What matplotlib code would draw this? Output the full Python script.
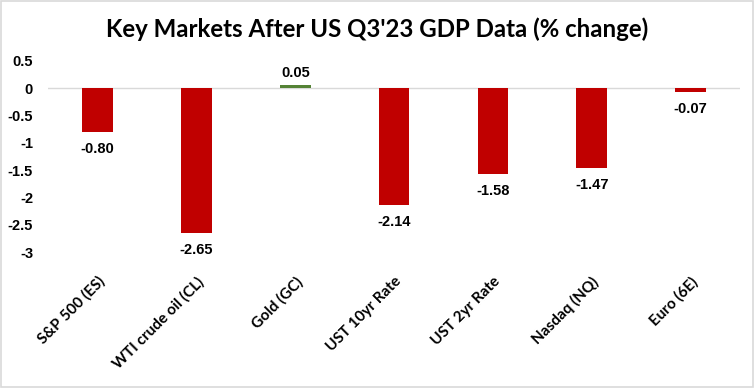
import numpy as np
import matplotlib.pyplot as plt
from matplotlib.patches import Rectangle

categories = ["S&P 500 (ES)", "WTI crude oil (CL)", "Gold (GC)", "UST 10yr Rate",
              "UST 2yr Rate", "Nasdaq (NQ)", "Euro (6E)"]
changes = [-0.80, -2.65, 0.05, -2.14, -1.58, -1.47, -0.07]
yticks = [0.5, 0, -0.5, -1, -1.5, -2, -2.5, -3]
ytick_labels = ["0.5", "0", "-0.5", "-1", "-1.5", "-2", "-2.5", "-3"]

fig = plt.figure(figsize=(7.55, 3.88), dpi=100)
ax = fig.add_axes([0.064, 0.3505, 0.916, 0.4925])

x = np.arange(len(categories))
colors = ["#548235" if v > 0 else "#C00000" for v in changes]
ax.bar(x, changes, width=0.31, color=colors, zorder=3)

ax.set_xlim(-0.5, len(categories) - 0.5)
ax.set_ylim(-3, 0.5)
ax.axhline(0, color="#d9d9d9", lw=1, zorder=2)

for s in ax.spines.values():
    s.set_visible(False)

ax.set_yticks(yticks)
ax.set_yticklabels(ytick_labels, family="Liberation Sans", fontweight="bold", fontsize=10.5)
ax.tick_params(axis="y", length=0, pad=11)

ax.set_xticks(x)
ax.set_xticklabels(categories, rotation=45, ha="right", rotation_mode="anchor",
                   family="Lato", fontweight="bold", fontsize=11)
ax.tick_params(axis="x", length=0, pad=16)

for xi, v in zip(x, changes):
    if v < 0:
        ax.annotate(f"{v:.2f}", (xi, v), xytext=(0, -7), textcoords="offset points",
                    ha="center", va="top", family="Liberation Sans",
                    fontweight="bold", fontsize=10.5)
    else:
        ax.annotate(f"{v:.2f}", (xi, v), xytext=(0, 4), textcoords="offset points",
                    ha="center", va="bottom", family="Liberation Sans",
                    fontweight="bold", fontsize=10.5)

fig.text(0.5, 0.925, "Key Markets After US Q3'23 GDP Data (% change)", ha="center",
         va="center", family="Lato", fontweight="bold", fontsize=17.3)

fig.patches.append(Rectangle((0.001, 0.002), 0.997, 0.996, transform=fig.transFigure,
                             fill=False, edgecolor="#d9d9d9", lw=1.2))

fig.savefig("out.png", dpi=100)
